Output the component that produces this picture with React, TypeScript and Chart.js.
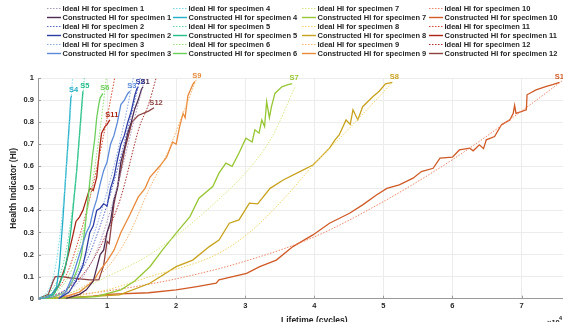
import React, { useEffect, useRef } from "react";
import { Chart, registerables } from "chart.js";

Chart.register(...registerables);

// ---------- data ----------
const xTicks = [0, 1, 2, 3, 4, 5, 6, 7, 8];
const yTicks = [0, 0.1, 0.2, 0.3, 0.4, 0.5, 0.6, 0.7, 0.8, 0.9, 1];
const specimens = ["1", "2", "3", "4", "5", "6", "7", "8", "9", "10", "11", "12"];
const xTitle = "Lifetime (cycles)";
const yTitle = "Health Indicator (HI)";

const ideal1 = [[0, 0], [0.4, 0.03], [0.6, 0.08], [0.8, 0.18], [1.0, 0.35], [1.2, 0.57], [1.4, 0.82], [1.55, 1.0]];
const ideal2 = [[0, 0], [0.3, 0.02], [0.5, 0.07], [0.7, 0.17], [0.9, 0.33], [1.1, 0.53], [1.3, 0.77], [1.48, 1.0]];
const ideal3 = [[0, 0], [0.3, 0.02], [0.5, 0.08], [0.7, 0.2], [0.9, 0.38], [1.1, 0.6], [1.25, 0.8], [1.38, 1.0]];
const ideal4 = [[0, 0], [0.15, 0.04], [0.25, 0.14], [0.33, 0.32], [0.4, 0.55], [0.45, 0.75], [0.5, 1.0]];
const ideal5 = [[0, 0], [0.2, 0.04], [0.35, 0.14], [0.45, 0.3], [0.55, 0.55], [0.62, 0.8], [0.67, 1.0]];
const ideal6 = [[0, 0], [0.3, 0.04], [0.5, 0.14], [0.65, 0.3], [0.8, 0.55], [0.9, 0.77], [0.99, 1.0]];
const ideal7 = [[0, 0], [0.5, 0.03], [1.0, 0.1], [1.62, 0.2], [2.1, 0.31], [2.58, 0.44], [3.06, 0.59], [3.4, 0.74], [3.72, 0.96]];
const ideal8 = [[0, 0], [0.5, 0.01], [1.0, 0.04], [1.62, 0.1], [2.58, 0.2], [3.06, 0.3], [3.55, 0.45], [4.0, 0.61], [4.5, 0.77], [5.13, 0.98]];
const ideal9 = [[0, 0], [0.5, 0.03], [1.0, 0.14], [1.3, 0.28], [1.6, 0.49], [1.9, 0.68], [2.1, 0.84], [2.3, 1.0]];
const ideal10 = [[0, 0], [1, 0.035], [2, 0.09], [3, 0.17], [4, 0.28], [5, 0.44], [6, 0.63], [7, 0.85], [7.6, 0.99]];
const ideal11 = [[0, 0], [0.2, 0.02], [0.4, 0.1], [0.6, 0.28], [0.8, 0.52], [0.95, 0.74], [1.11, 1.0]];
const ideal12 = [[0, 0], [0.4, 0.04], [0.7, 0.13], [1.0, 0.3], [1.2, 0.46], [1.47, 0.78], [1.6, 0.88], [1.71, 1.0]];

const hi1 = [[0.4, 0], [0.6, 0.02], [0.7, 0.04], [0.8, 0.08], [0.85, 0.14], [0.9, 0.2], [0.95, 0.22], [1.0, 0.3], [1.05, 0.35], [1.1, 0.45], [1.15, 0.5], [1.2, 0.62], [1.25, 0.68], [1.3, 0.75], [1.35, 0.8], [1.4, 0.86], [1.45, 0.9], [1.5, 0.95], [1.52, 0.96]];
const hi2 = [[0.3, 0], [0.45, 0.03], [0.55, 0.08], [0.65, 0.15], [0.7, 0.22], [0.75, 0.3], [0.8, 0.33], [0.85, 0.4], [0.9, 0.41], [0.95, 0.43], [1.0, 0.42], [1.05, 0.5], [1.1, 0.55], [1.15, 0.63], [1.2, 0.7], [1.25, 0.74], [1.3, 0.8], [1.35, 0.85], [1.4, 0.92], [1.43, 0.95], [1.45, 0.96]];
const hi3 = [[0.3, 0], [0.4, 0.03], [0.5, 0.1], [0.55, 0.15], [0.6, 0.2], [0.65, 0.25], [0.7, 0.3], [0.75, 0.33], [0.8, 0.4], [0.85, 0.45], [0.9, 0.52], [0.95, 0.58], [1.0, 0.62], [1.05, 0.7], [1.1, 0.74], [1.15, 0.8], [1.2, 0.88], [1.25, 0.9], [1.3, 0.93], [1.33, 0.94]];
const hi4 = [[0, 0], [0.1, 0.005], [0.2, 0.02], [0.27, 0.055], [0.31, 0.15], [0.36, 0.357], [0.4, 0.55], [0.44, 0.735], [0.46, 0.825], [0.475, 0.909], [0.486, 0.92]];
const hi5 = [[0, 0], [0.15, 0.005], [0.23, 0.02], [0.3, 0.06], [0.38, 0.12], [0.43, 0.2], [0.48, 0.32], [0.52, 0.45], [0.56, 0.58], [0.59, 0.7], [0.62, 0.82], [0.65, 0.94]];
const hi6 = [[0, 0], [0.2, 0.005], [0.4, 0.03], [0.5, 0.08], [0.58, 0.14], [0.63, 0.2], [0.68, 0.32], [0.72, 0.44], [0.76, 0.56], [0.79, 0.65], [0.82, 0.72], [0.85, 0.82], [0.88, 0.88], [0.9, 0.91], [0.94, 0.93]];
const hi7 = [[0, 0], [0.5, 0.005], [0.85, 0.01], [1.2, 0.04], [1.4, 0.08], [1.62, 0.145], [1.8, 0.22], [2.0, 0.297], [2.2, 0.372], [2.33, 0.455], [2.53, 0.508], [2.62, 0.569], [2.72, 0.614], [2.81, 0.6], [2.91, 0.66], [3.01, 0.727], [3.1, 0.71], [3.14, 0.765], [3.2, 0.75], [3.24, 0.81], [3.28, 0.78], [3.31, 0.893], [3.35, 0.82], [3.38, 0.87], [3.43, 0.93], [3.53, 0.96], [3.62, 0.97], [3.68, 0.975]];
const hi8 = [[0, 0], [0.5, 0.005], [1.18, 0.017], [1.62, 0.07], [2.0, 0.145], [2.24, 0.175], [2.48, 0.236], [2.62, 0.266], [2.77, 0.342], [2.91, 0.357], [3.06, 0.433], [3.18, 0.43], [3.36, 0.5], [3.55, 0.538], [3.79, 0.576], [3.98, 0.606], [4.08, 0.637], [4.22, 0.682], [4.3, 0.72], [4.36, 0.742], [4.46, 0.81], [4.52, 0.79], [4.56, 0.856], [4.63, 0.81], [4.7, 0.87], [4.85, 0.916], [4.94, 0.94], [5.03, 0.974], [5.13, 0.98]];
const hi9 = [[0.3, 0], [0.6, 0.03], [0.8, 0.08], [0.9, 0.13], [1.0, 0.17], [1.1, 0.22], [1.2, 0.3], [1.33, 0.38], [1.45, 0.46], [1.55, 0.5], [1.62, 0.55], [1.76, 0.6], [1.86, 0.64], [1.95, 0.71], [2.0, 0.7], [2.05, 0.78], [2.1, 0.84], [2.13, 0.82], [2.17, 0.92], [2.24, 0.97], [2.27, 0.985]];
const hi10 = [[0, 0], [0.2, 0.005], [0.6, 0.008], [0.8, 0.012], [1.0, 0.02], [1.6, 0.027], [2.0, 0.04], [2.3, 0.055], [2.58, 0.07], [2.62, 0.085], [3.02, 0.115], [3.21, 0.145], [3.45, 0.175], [3.69, 0.236], [3.98, 0.289], [4.22, 0.342], [4.51, 0.387], [4.7, 0.425], [4.9, 0.47], [5.05, 0.5], [5.23, 0.516], [5.43, 0.546], [5.55, 0.576], [5.72, 0.591], [5.82, 0.637], [6.0, 0.641], [6.1, 0.674], [6.25, 0.682], [6.3, 0.67], [6.39, 0.697], [6.45, 0.68], [6.49, 0.72], [6.61, 0.735], [6.71, 0.788], [6.83, 0.81], [6.88, 0.84], [6.9, 0.876], [6.92, 0.84], [7.07, 0.856], [7.08, 0.924], [7.21, 0.946], [7.36, 0.962], [7.45, 0.97], [7.55, 0.98]];
const hi11 = [[0, 0], [0.1, 0.005], [0.2, 0.02], [0.3, 0.06], [0.4, 0.15], [0.5, 0.28], [0.55, 0.35], [0.6, 0.37], [0.65, 0.4], [0.7, 0.45], [0.75, 0.5], [0.8, 0.49], [0.85, 0.55], [0.9, 0.7], [0.92, 0.75], [0.97, 0.78], [1.0, 0.79], [1.04, 0.81]];
const hi12 = [[0, 0], [0.15, 0.02], [0.22, 0.08], [0.25, 0.1], [0.35, 0.1], [0.45, 0.095], [0.6, 0.09], [0.75, 0.085], [0.88, 0.085], [0.95, 0.15], [1.0, 0.26], [1.03, 0.25], [1.1, 0.43], [1.18, 0.55], [1.26, 0.68], [1.36, 0.8], [1.45, 0.83], [1.6, 0.85], [1.68, 0.865]];

const idealSeries = [ideal1, ideal2, ideal3, ideal4, ideal5, ideal6, ideal7, ideal8, ideal9, ideal10, ideal11, ideal12];
const constructedSeries = [hi1, hi2, hi3, hi4, hi5, hi6, hi7, hi8, hi9, hi10, hi11, hi12];

const idealColors = ["#a898bc", "#5868c8", "#88a8e4", "#78d8ea", "#66d8a8", "#98e078", "#d4e880", "#f2d462", "#f8b46a", "#f08464", "#d84a30", "#a83030"];
const constructedColors = ["#4e2c52", "#2c3ca4", "#5a8ad8", "#22aec6", "#22be86", "#6cce5a", "#96c632", "#c8a21c", "#e88a3a", "#d05a26", "#a82414", "#8e4242"];

// ---------- plugins ----------
const FONT = "'Liberation Sans', Arial, sans-serif";

const legendPlugin = {
  id: "gridLegend",
  afterDraw(chart: any) {
    const ctx = chart.ctx;
    const colX = [47, 173, 302, 429];
    const rowY = [8.5, 17.5, 26.5, 35.5, 44.5, 53.5];
    ctx.save();
    ctx.font = `bold 7.5px ${FONT}`;
    ctx.textBaseline = "middle";
    ctx.textAlign = "left";
    for (let c = 0; c < 4; c++) {
      for (let r = 0; r < 6; r++) {
        const s = c * 3 + Math.floor(r / 2);
        const ideal = r % 2 === 0;
        const x = colX[c];
        const y = rowY[r];
        ctx.beginPath();
        ctx.strokeStyle = ideal ? idealColors[s] : constructedColors[s];
        ctx.lineWidth = ideal ? 1 : 1.4;
        ctx.setLineDash(ideal ? [1.5, 1.5] : []);
        ctx.moveTo(x, y);
        ctx.lineTo(x + 14, y);
        ctx.stroke();
        ctx.setLineDash([]);
        ctx.fillStyle = "#262626";
        const label = (ideal ? "Ideal HI for specimen " : "Constructed HI for specimen ") + specimens[s];
        ctx.fillText(label, x + 15.5, y + 0.5);
      }
    }
    ctx.restore();
  },
};

const endLabelPlugin = {
  id: "endLabels",
  afterDatasetsDraw(chart: any) {
    const ctx = chart.ctx;
    ctx.save();
    ctx.font = `bold 7.5px ${FONT}`;
    ctx.textAlign = "center";
    ctx.textBaseline = "bottom";
    chart.data.datasets.forEach((ds: any, i: number) => {
      if (!ds.isConstructed) return;
      const meta = chart.getDatasetMeta(i);
      const pts = meta.data;
      const last = pts[pts.length - 1];
      if (!last) return;
      ctx.fillStyle = ds.labelColor;
      ctx.fillText("S" + ds.specimen, last.x + 2, last.y - 1.5);
    });
    // axis exponent
    ctx.fillStyle = "#262626";
    ctx.textAlign = "left";
    ctx.textBaseline = "alphabetic";
    ctx.font = `bold 7.5px ${FONT}`;
    ctx.fillText("\u00d710", 547, 325);
    ctx.font = `bold 5.5px ${FONT}`;
    ctx.fillText("4", 559, 320);
    ctx.restore();
  },
};

const tickMarkPlugin = {
  id: "innerTicks",
  afterDatasetsDraw(chart: any) {
    const { ctx, chartArea, scales } = chart;
    ctx.save();
    ctx.strokeStyle = "#9a9a9a";
    ctx.lineWidth = 1;
    for (const t of xTicks) {
      const x = Math.round(scales.x.getPixelForValue(t)) + 0.5;
      ctx.beginPath();
      ctx.moveTo(x, chartArea.bottom);
      ctx.lineTo(x, chartArea.bottom - 3);
      ctx.stroke();
    }
    for (const t of yTicks) {
      const y = Math.round(scales.y.getPixelForValue(t)) + 0.5;
      ctx.beginPath();
      ctx.moveTo(chartArea.left, y);
      ctx.lineTo(chartArea.left + 3, y);
      ctx.stroke();
    }
    ctx.restore();
  },
};

export default function App() {
  const ref = useRef<HTMLCanvasElement | null>(null);

  useEffect(() => {
    document.body.style.margin = "0";
    document.body.style.overflow = "hidden";
    document.documentElement.style.overflow = "hidden";
    if (!ref.current) return;

    const datasets: any[] = [];
    for (let i = 0; i < 12; i++) {
      datasets.push({
        label: "Ideal HI for specimen " + specimens[i],
        data: idealSeries[i].map((p) => ({ x: p[0], y: p[1] })),
        borderColor: idealColors[i],
        borderWidth: 1,
        borderDash: [1.5, 1.5],
        pointRadius: 0,
        tension: 0.4,
        cubicInterpolationMode: "monotone",
        fill: false,
      });
      datasets.push({
        label: "Constructed HI for specimen " + specimens[i],
        data: constructedSeries[i].map((p) => ({ x: p[0], y: p[1] })),
        borderColor: constructedColors[i],
        borderWidth: 1.3,
        pointRadius: 0,
        tension: 0,
        fill: false,
        isConstructed: true,
        specimen: specimens[i],
        labelColor: constructedColors[i],
      });
    }

    const chart = new Chart(ref.current, {
      type: "line",
      data: { datasets },
      plugins: [legendPlugin, endLabelPlugin, tickMarkPlugin],
      options: {
        animation: false,
        responsive: false,
        maintainAspectRatio: false,
        layout: { padding: { top: 78, right: 9.4, left: 0, bottom: 0 } },
        plugins: {
          legend: { display: false },
          tooltip: { enabled: false },
          title: { display: false },
        },
        scales: {
          x: {
            type: "linear",
            min: 0,
            max: 8,
            afterFit(scale: any) {
              scale.height = 33.3;
            },
            afterBuildTicks(scale: any) {
              scale.ticks = xTicks.map((v) => ({ value: v }));
            },
            ticks: {
              color: "#262626",
              font: { family: FONT, size: 7.5, weight: "bold" },
              padding: 3,
              maxRotation: 0,
              autoSkip: false,
              callback: (v: any) => (v === 0 ? "" : String(v)),
            },
            grid: { color: "#ececec", drawTicks: false, lineWidth: 1 },
            border: { color: "#9a9a9a", width: 1 },
            title: {
              display: true,
              text: xTitle,
              color: "#262626",
              font: { family: FONT, size: 8.5, weight: "bold" },
              padding: { top: 0, bottom: 6 },
            },
          },
          y: {
            type: "linear",
            min: 0,
            max: 1,
            afterFit(scale: any) {
              scale.width = 38;
            },
            afterBuildTicks(scale: any) {
              scale.ticks = yTicks.map((v) => ({ value: v }));
            },
            ticks: {
              color: "#262626",
              font: { family: FONT, size: 7.5, weight: "bold" },
              padding: 4,
              autoSkip: false,
              callback: (v: any) => String(Math.round(v * 10) / 10),
            },
            grid: { color: "#ececec", drawTicks: false, lineWidth: 1 },
            border: { color: "#9a9a9a", width: 1 },
            title: {
              display: true,
              text: yTitle,
              color: "#262626",
              font: { family: FONT, size: 8.5, weight: "bold" },
              padding: { top: 9, bottom: 0 },
            },
          },
        },
      } as any,
    });
    return () => chart.destroy();
  }, []);

  return (
    <div style={{ width: 563, height: 322, overflow: "hidden", position: "relative", background: "#fff" }}>
      <canvas ref={ref} width={600} height={332} style={{ display: "block" }} />
    </div>
  );
}
